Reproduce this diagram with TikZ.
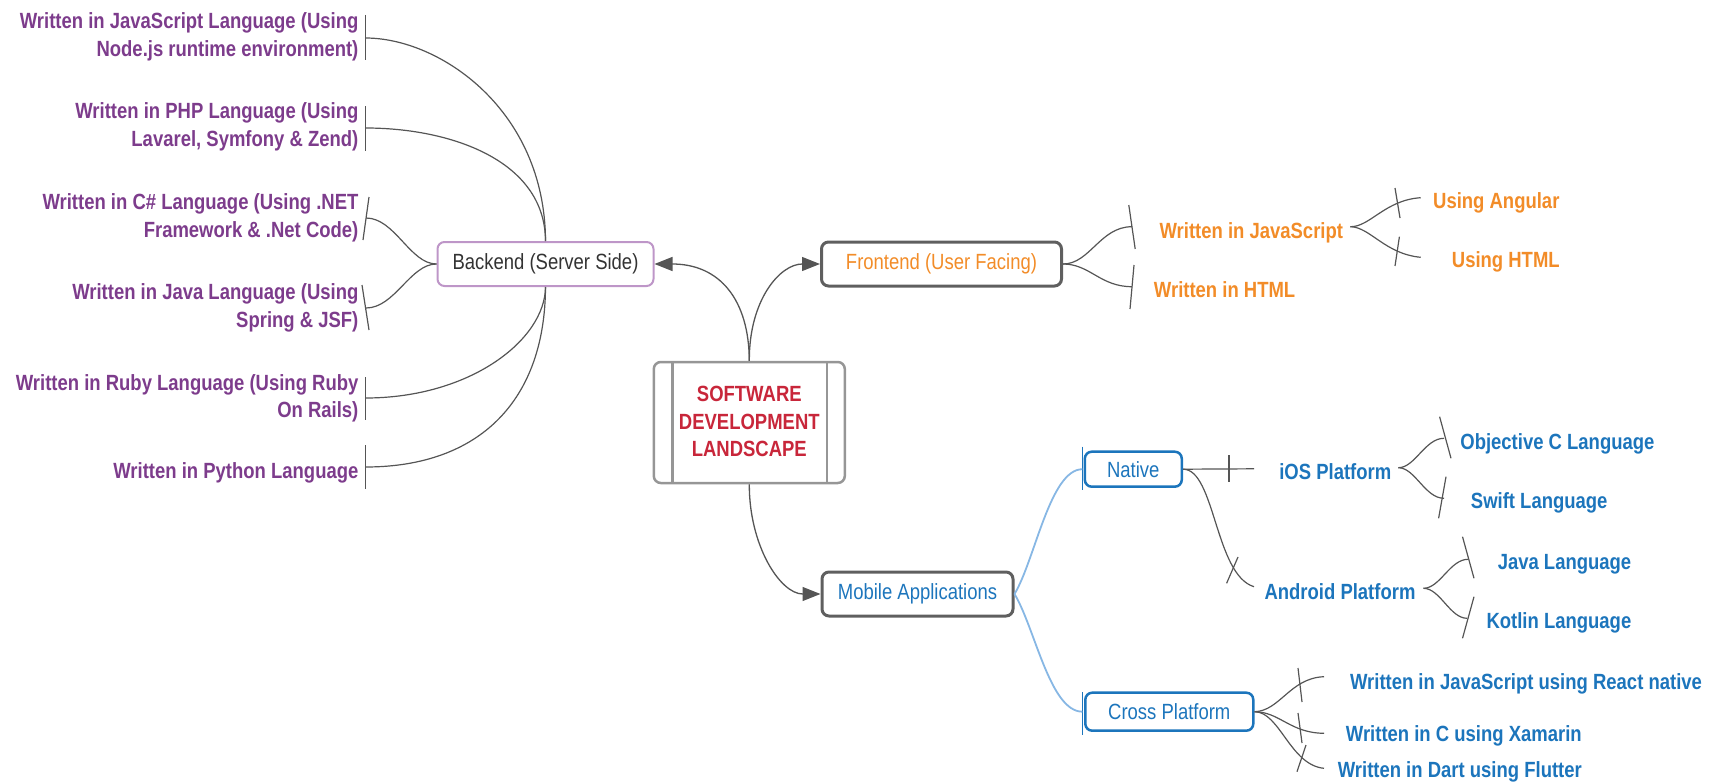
\documentclass[tikz,border=0pt]{standalone}
\usepackage{fontspec}
\setmainfont{Liberation Sans}[FakeStretch=0.84]
\usetikzlibrary{arrows.meta}
\definecolor{purp}{RGB}{125,60,140}
\definecolor{orng}{RGB}{242,140,40}
\definecolor{blu}{RGB}{28,117,188}
\definecolor{lblu}{RGB}{135,183,228}
\definecolor{crim}{RGB}{200,38,58}
\definecolor{lc}{RGB}{85,85,85}
\definecolor{bkc}{RGB}{190,150,200}
\definecolor{cgray}{RGB}{150,150,150}
\definecolor{dgray}{RGB}{95,95,95}
\definecolor{txt}{RGB}{51,51,51}
\newcommand\fsz{\fontsize{22}{27.5}\selectfont}
\begin{document}
\begin{tikzpicture}[x=1pt,y=-1pt,
  lbl/.style={inner sep=0pt, font=\fsz\bfseries},
  one/.style={text height=16pt, text depth=5pt},
  box/.style={rounded corners=7pt, inner sep=0pt, font=\fsz},
  ln/.style={draw=lc, line width=1.2pt},
  bl/.style={draw=lblu, line width=1.8pt},
  arr/.style={draw=lc, line width=1.3pt, -{Triangle[length=18pt,width=14pt]}}]
\useasboundingbox (0,0) rectangle (1718,784);

% ---- boxes
\node[box, draw=bkc, line width=2pt, text=txt, minimum width=216pt, minimum height=44pt] (bk) at (545.5,264) {Backend (Server Side)};
\node[box, draw=dgray, line width=3pt, text=orng, minimum width=240pt, minimum height=44pt] (fe) at (941.5,264) {Frontend (User Facing)};
\node[box, draw=cgray, line width=2.5pt, minimum width=191pt, minimum height=121pt] (ctr) at (749.3,422.5) {};
\draw[cgray, line width=2.5pt] (672.7,361.9) -- (672.7,483.1) (827,361.9) -- (827,483.1);
\node[lbl, text=crim, align=center] (ctrt) at (749.3,421.8) {SOFTWARE\\DEVELOPMENT\\LANDSCAPE};
\node[box, draw=dgray, line width=3pt, text=blu, minimum width=191pt, minimum height=44pt] (mob) at (917.5,594) {Mobile Applications};
\node[box, draw=blu, line width=2.5pt, text=blu, minimum width=97pt, minimum height=35pt] (nat) at (1133.3,469.2) {Native};
\node[box, draw=blu, line width=2.5pt, text=blu, minimum width=168pt, minimum height=38pt] (crs) at (1169.3,711.7) {Cross Platform};

% ---- main arrows
\draw[arr] (ctr.north) .. controls (749,300) and (720,264) .. (bk.east);
\draw[arr] (ctr.north) .. controls (749,300) and (780,264) .. (fe.west);
\draw[arr] (ctr.south) .. controls (749,545) and (780,594) .. (mob.west);

% ---- backend leaves
\node[lbl, text=purp, anchor=east, align=right] (b1) at (358.6,36.9) {Written in JavaScript Language (Using\\Node.js runtime environment)};
\node[lbl, text=purp, anchor=east, align=right] (b2) at (358.6,127) {Written in PHP Language (Using\\Lavarel, Symfony \& Zend)};
\node[lbl, text=purp, anchor=east, align=right] (b3) at (358.6,217.6) {Written in C\# Language (Using .NET\\Framework \& .Net Code)};
\node[lbl, text=purp, anchor=east, align=right] (b4) at (358.6,307.9) {Written in Java Language (Using\\Spring \& JSF)};
\node[lbl, text=purp, anchor=east, align=right] (b5) at (358.6,398.2) {Written in Ruby Language (Using Ruby\\On Rails)};
\node[lbl, one, text=purp, anchor=east] (b6) at (358.6,473.4) {Written in Python Language};

\coordinate (bt1) at (365.5,38);
\coordinate (bt2) at (365.5,128);
\coordinate (bt3) at (366,218);
\coordinate (bt4) at (366,308);
\coordinate (bt5) at (365.5,398);
\coordinate (bt6) at (365.5,467);
\draw[ln] (365.5,15) -- (365.5,60);
\draw[ln] (365.5,106) -- (365.5,151);
\draw[ln] (369,197) -- (363,240);
\draw[ln] (362,285) -- (369,330);
\draw[ln] (365.5,377) -- (365.5,420);
\draw[ln] (365.5,445) -- (365.5,489);
\draw[ln] (bt1) .. controls (440,38) and (545,110) .. (bk.north);
\draw[ln] (bt2) .. controls (450,128) and (545,160) .. (bk.north);
\draw[ln] (bt3) .. controls (395,218) and (410,264) .. (bk.west);
\draw[ln] (bt4) .. controls (395,308) and (410,264) .. (bk.west);
\draw[ln] (bt5) .. controls (470,398) and (545,340) .. (bk.south);
\draw[ln] (bt6) .. controls (480,467) and (545,400) .. (bk.south);

% ---- frontend leaves
\node[lbl, one, text=orng] (f1) at (1251.3,233.4) {Written in JavaScript};
\node[lbl, one, text=orng] (f2) at (1224.6,292.4) {Written in HTML};
\coordinate (ft1) at (1132,226.7);
\coordinate (ft2) at (1132,286.7);
\draw[ln] (1128.8,205) -- (1135.2,249);
\draw[ln] (1134,265) -- (1130,309);
\draw[ln] (fe.east) .. controls (1090,264) and (1100,226.7) .. (ft1);
\draw[ln] (fe.east) .. controls (1090,264) and (1100,286.7) .. (ft2);

\node[lbl, one, text=orng] (f11) at (1496.3,203.4) {Using Angular};
\node[lbl, one, text=orng] (f12) at (1505.8,262.4) {Using HTML};
\coordinate (fs) at (1350.4,226.7);
\coordinate (fe1) at (1420.7,197.7);
\coordinate (fe2) at (1420.7,257.3);
\draw[ln] (1395,188) -- (1400,218);
\draw[ln] (1399.4,236.7) -- (1395,266);
\draw[ln] (fs) .. controls (1370,227) and (1385,200) .. (fe1);
\draw[ln] (fs) .. controls (1370,227) and (1385,254) .. (fe2);

% ---- mobile branches
\coordinate (nt) at (1082.4,469.2);
\coordinate (ct) at (1082.4,711.7);
\draw[draw=blu, line width=1.5pt] (1082.4,446.7) -- (1082.4,490);
\draw[draw=blu, line width=1.5pt] (1082.4,692) -- (1082.4,735);
\draw[bl] (mob.east) .. controls (1035,560) and (1050,469.2) .. (nt);
\draw[bl] (mob.east) .. controls (1035,628) and (1050,711.7) .. (ct);

% native
\node[lbl, one, text=blu] (ios) at (1335.3,474.1) {iOS Platform};
\node[lbl, one, text=blu] (and) at (1340,594.1) {Android Platform};
\coordinate (iosL) at (1254,468.8);
\coordinate (andL) at (1254,586.7);
\draw[ln] (nat.east) -- (iosL);
\draw[ln] (1229,455) -- (1229,481.7);
\draw[ln] (nat.east) .. controls (1215,469) and (1215,575) .. (andL);
\draw[ln] (1238,557) -- (1226.6,583.3);

\node[lbl, one, text=blu] (objc) at (1557.4,444.1) {Objective C Language};
\node[lbl, one, text=blu] (swft) at (1539.2,503.4) {Swift Language};
\coordinate (iosR) at (1398.4,467.7);
\coordinate (it1) at (1444,438.3);
\coordinate (it2) at (1444,498.3);
\draw[ln] (1439.6,416.7) -- (1451,458.3);
\draw[ln] (1446,476.7) -- (1438.6,518.3);
\draw[ln] (iosR) .. controls (1415,467.7) and (1425,438.3) .. (it1);
\draw[ln] (iosR) .. controls (1415,467.7) and (1425,498.3) .. (it2);

\node[lbl, one, text=blu] (jav) at (1564.5,564.1) {Java Language};
\node[lbl, one, text=blu] (kot) at (1558.9,623.1) {Kotlin Language};
\coordinate (andR) at (1423.5,588.3);
\coordinate (at1) at (1468,559.3);
\coordinate (at2) at (1467,618.3);
\draw[ln] (1462.5,536.7) -- (1474,578.3);
\draw[ln] (1474,596.7) -- (1462.5,638.3);
\draw[ln] (andR) .. controls (1440,588.3) and (1450,559.3) .. (at1);
\draw[ln] (andR) .. controls (1440,588.3) and (1450,618.3) .. (at2);

% cross platform
\node[lbl, one, text=blu] (rn) at (1526,684.1) {Written in JavaScript using React native};
\node[lbl, one, text=blu] (xm) at (1463.8,735.7) {Written in C using Xamarin};
\node[lbl, one, text=blu] (fl) at (1459.8,772.4) {Written in Dart using Flutter};
\coordinate (c1) at (1324,676.7);
\coordinate (c2) at (1324,733.3);
\coordinate (c3) at (1324,768.3);
\draw[ln] (1298,668) -- (1302,702);
\draw[ln] (1298,713) -- (1302,743);
\draw[ln] (1306,745) -- (1297,771.7);
\draw[ln] (crs.east) .. controls (1280,711) and (1290,678) .. (c1);
\draw[ln] (crs.east) .. controls (1280,712) and (1290,733) .. (c2);
\draw[ln] (crs.east) .. controls (1280,712) and (1290,765) .. (c3);
\end{tikzpicture}
\end{document}
